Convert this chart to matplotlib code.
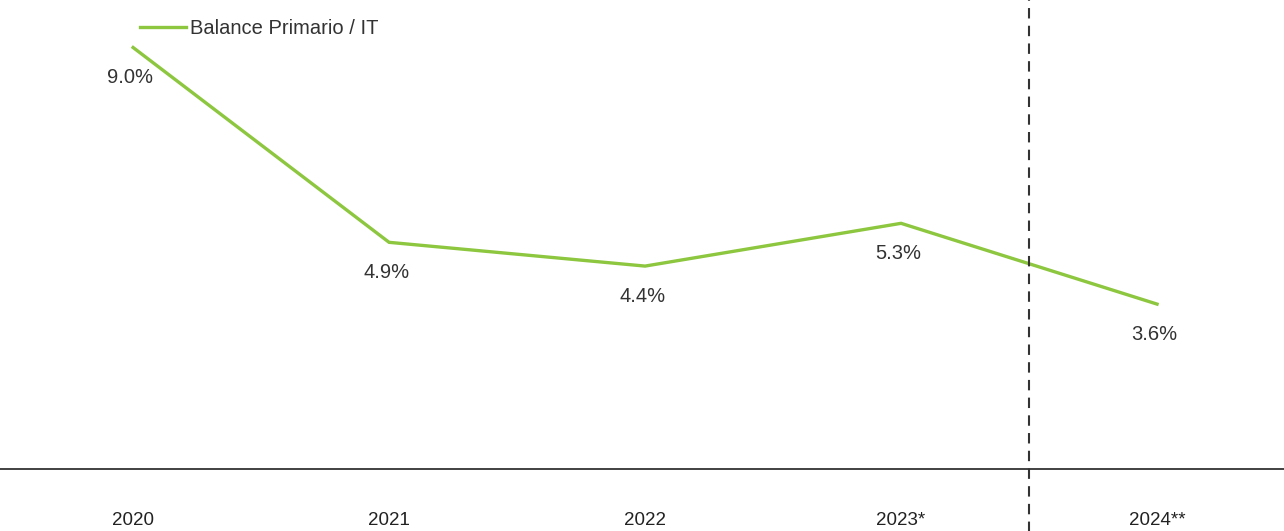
import numpy as np
import matplotlib
matplotlib.use('Agg')
import matplotlib.pyplot as plt

# datos
anios = ['2020', '2021', '2022', '2023*', '2024**']
balance = [9.0, 4.9, 4.4, 5.3, 3.6]
etiquetas = ['9.0%', '4.9%', '4.4%', '5.3%', '3.6%']

verde = '#8dc63f'
gris = '#333333'

plt.rcParams['font.family'] = ['Liberation Sans', 'DejaVu Sans']

fig = plt.figure(figsize=(12.84, 5.31), dpi=100)
ax = fig.add_axes([0, 0.1168, 1, 0.8832])

x = np.arange(len(anios))
ax.plot(x, balance, color=verde, linewidth=2.4, label='Balance Primario / IT',
        solid_joinstyle='miter')

# etiquetas de datos
for xi, yi, t in zip(x, balance, etiquetas):
    ax.annotate(t, (xi, yi), xytext=(-2, -15), textcoords='offset points',
                ha='center', va='top', fontsize=14.5, color=gris)

# linea divisoria (proyecciones)
ax.axvline(x=3.5, ymin=-0.14, ymax=1, color=gris, linestyle=(0, (5, 3.5)),
           linewidth=1.5, clip_on=False)

ax.set_xlim(-0.52, 4.496)
ax.set_ylim(0.13, 10)

for s in ['top', 'right', 'left']:
    ax.spines[s].set_visible(False)
ax.spines['bottom'].set_color(gris)
ax.spines['bottom'].set_linewidth(1.3)

ax.set_yticks([])
ax.set_xticks(x)
ax.set_xticklabels(anios, fontsize=13.5, color='#222222')
ax.tick_params(axis='x', length=0, pad=31)

leg = ax.legend(loc='upper left', bbox_to_anchor=(0.095, 0.998), frameon=False,
                fontsize=14.5, handlelength=2.3, handletextpad=0.2,
                labelcolor=gris)

fig.savefig('out.png', dpi=100)
